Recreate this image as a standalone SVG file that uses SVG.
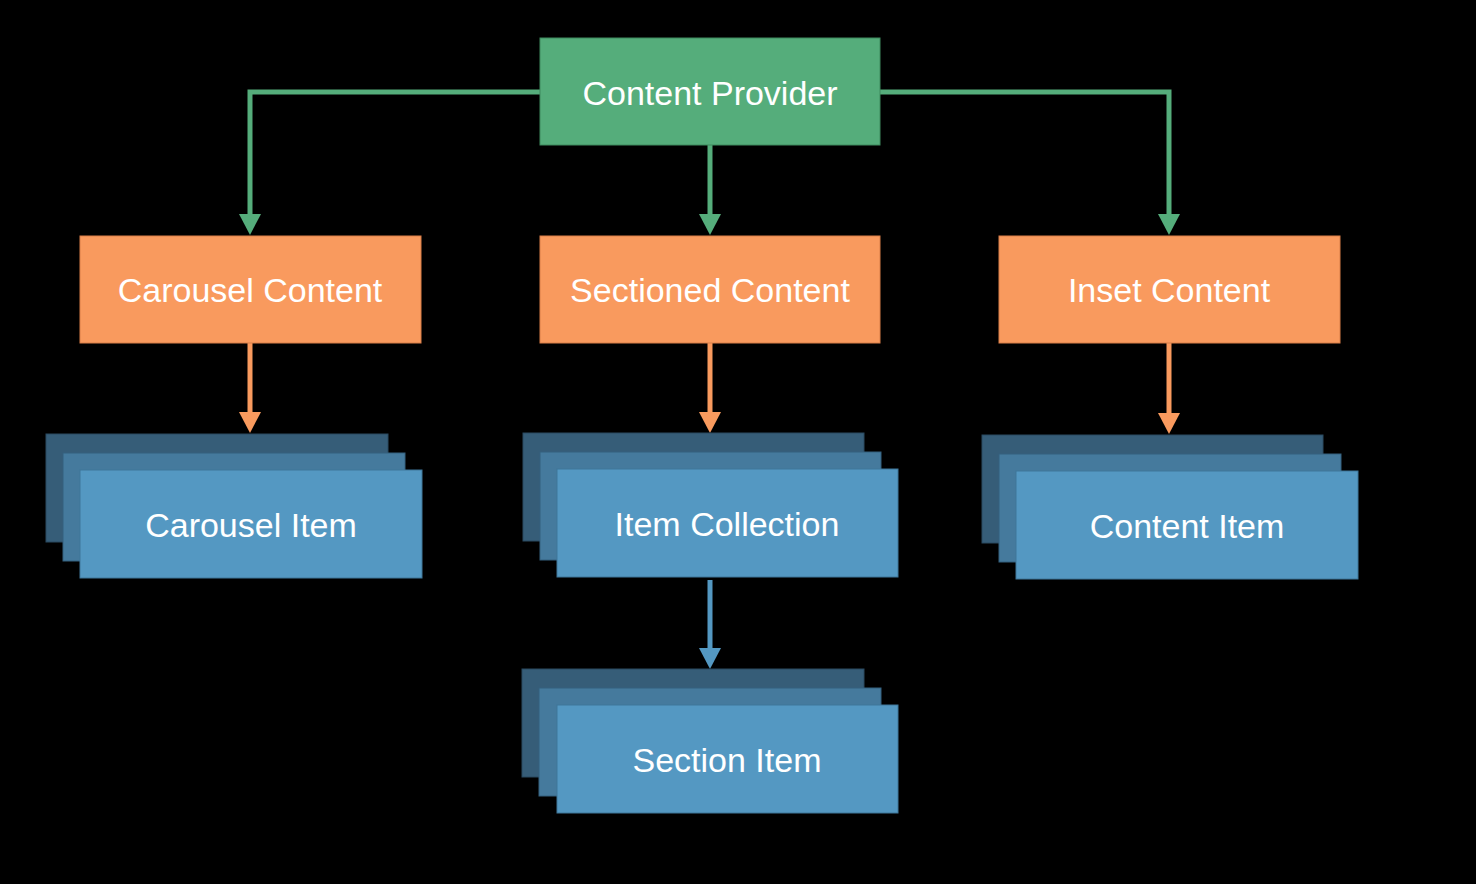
<svg xmlns="http://www.w3.org/2000/svg" width="1476" height="884" viewBox="0 0 1476 884">
<defs>
<style>
.lbl{font-family:"Liberation Sans",Arial,sans-serif;font-size:34px;fill:#ffffff;text-anchor:middle}
.g{fill:#55AD7B;stroke:#3E8A5E;stroke-width:1}
.o{fill:#F99A5E;stroke:#D97E48;stroke-width:1}
.b1{fill:#365D78;stroke:#2A4A60;stroke-width:1}
.b2{fill:#457A9D;stroke:#35617E;stroke-width:1}
.b3{fill:#5498C2;stroke:#3E7699;stroke-width:1}
.cg{fill:none;stroke:#55AD7B;stroke-width:5}
.co{fill:none;stroke:#F99A5E;stroke-width:5}
.cb{fill:none;stroke:#5498C2;stroke-width:5}
</style>
<marker id="ag" markerUnits="userSpaceOnUse" markerWidth="22" markerHeight="22" refX="11" refY="11" orient="auto"><path d="M0,0 L21,11 L0,22 Z" fill="#55AD7B"/></marker>
<marker id="ao" markerUnits="userSpaceOnUse" markerWidth="22" markerHeight="22" refX="11" refY="11" orient="auto"><path d="M0,0 L21,11 L0,22 Z" fill="#F99A5E"/></marker>
<marker id="ab" markerUnits="userSpaceOnUse" markerWidth="22" markerHeight="22" refX="11" refY="11" orient="auto"><path d="M0,0 L21,11 L0,22 Z" fill="#5498C2"/></marker>
</defs>
<rect width="1476" height="884" fill="#000000"/>
<g id="connectors">
<path class="cg" d="M540,92 H250 V225" marker-end="url(#ag)"/>
<path class="cg" d="M710,145 V225" marker-end="url(#ag)"/>
<path class="cg" d="M880,92 H1169 V225" marker-end="url(#ag)"/>
<path class="co" d="M250,343 V423" marker-end="url(#ao)"/>
<path class="co" d="M710,343 V423" marker-end="url(#ao)"/>
<path class="co" d="M1169,343 V424" marker-end="url(#ao)"/>
<path class="cb" d="M710,580 V659" marker-end="url(#ab)"/>
</g>
<g id="content-provider">
<rect class="g" x="540" y="38" width="340" height="107"/>
<text class="lbl" x="710" y="105">Content Provider</text>
</g>
<g id="carousel-content">
<rect class="o" x="80" y="236" width="341" height="107"/>
<text class="lbl" x="250" y="302">Carousel Content</text>
</g>
<g id="sectioned-content">
<rect class="o" x="540" y="236" width="340" height="107"/>
<text class="lbl" x="710" y="302">Sectioned Content</text>
</g>
<g id="inset-content">
<rect class="o" x="999" y="236" width="341" height="107"/>
<text class="lbl" x="1169" y="302">Inset Content</text>
</g>
<g id="carousel-item">
<rect class="b1" x="46" y="434" width="342" height="108"/>
<rect class="b2" x="63" y="453" width="342" height="108"/>
<rect class="b3" x="80" y="470" width="342" height="108"/>
<text class="lbl" x="251" y="537">Carousel Item</text>
</g>
<g id="item-collection">
<rect class="b1" x="523" y="433" width="341" height="108"/>
<rect class="b2" x="540" y="452" width="341" height="108"/>
<rect class="b3" x="557" y="469" width="341" height="108"/>
<text class="lbl" x="727" y="536">Item Collection</text>
</g>
<g id="content-item">
<rect class="b1" x="982" y="435" width="341" height="108"/>
<rect class="b2" x="999" y="454" width="342" height="108"/>
<rect class="b3" x="1016" y="471" width="342" height="108"/>
<text class="lbl" x="1187" y="538">Content Item</text>
</g>
<g id="section-item">
<rect class="b1" x="522" y="669" width="342" height="108"/>
<rect class="b2" x="539" y="688" width="342" height="108"/>
<rect class="b3" x="557" y="705" width="341" height="108"/>
<text class="lbl" x="727" y="772">Section Item</text>
</g>
</svg>
